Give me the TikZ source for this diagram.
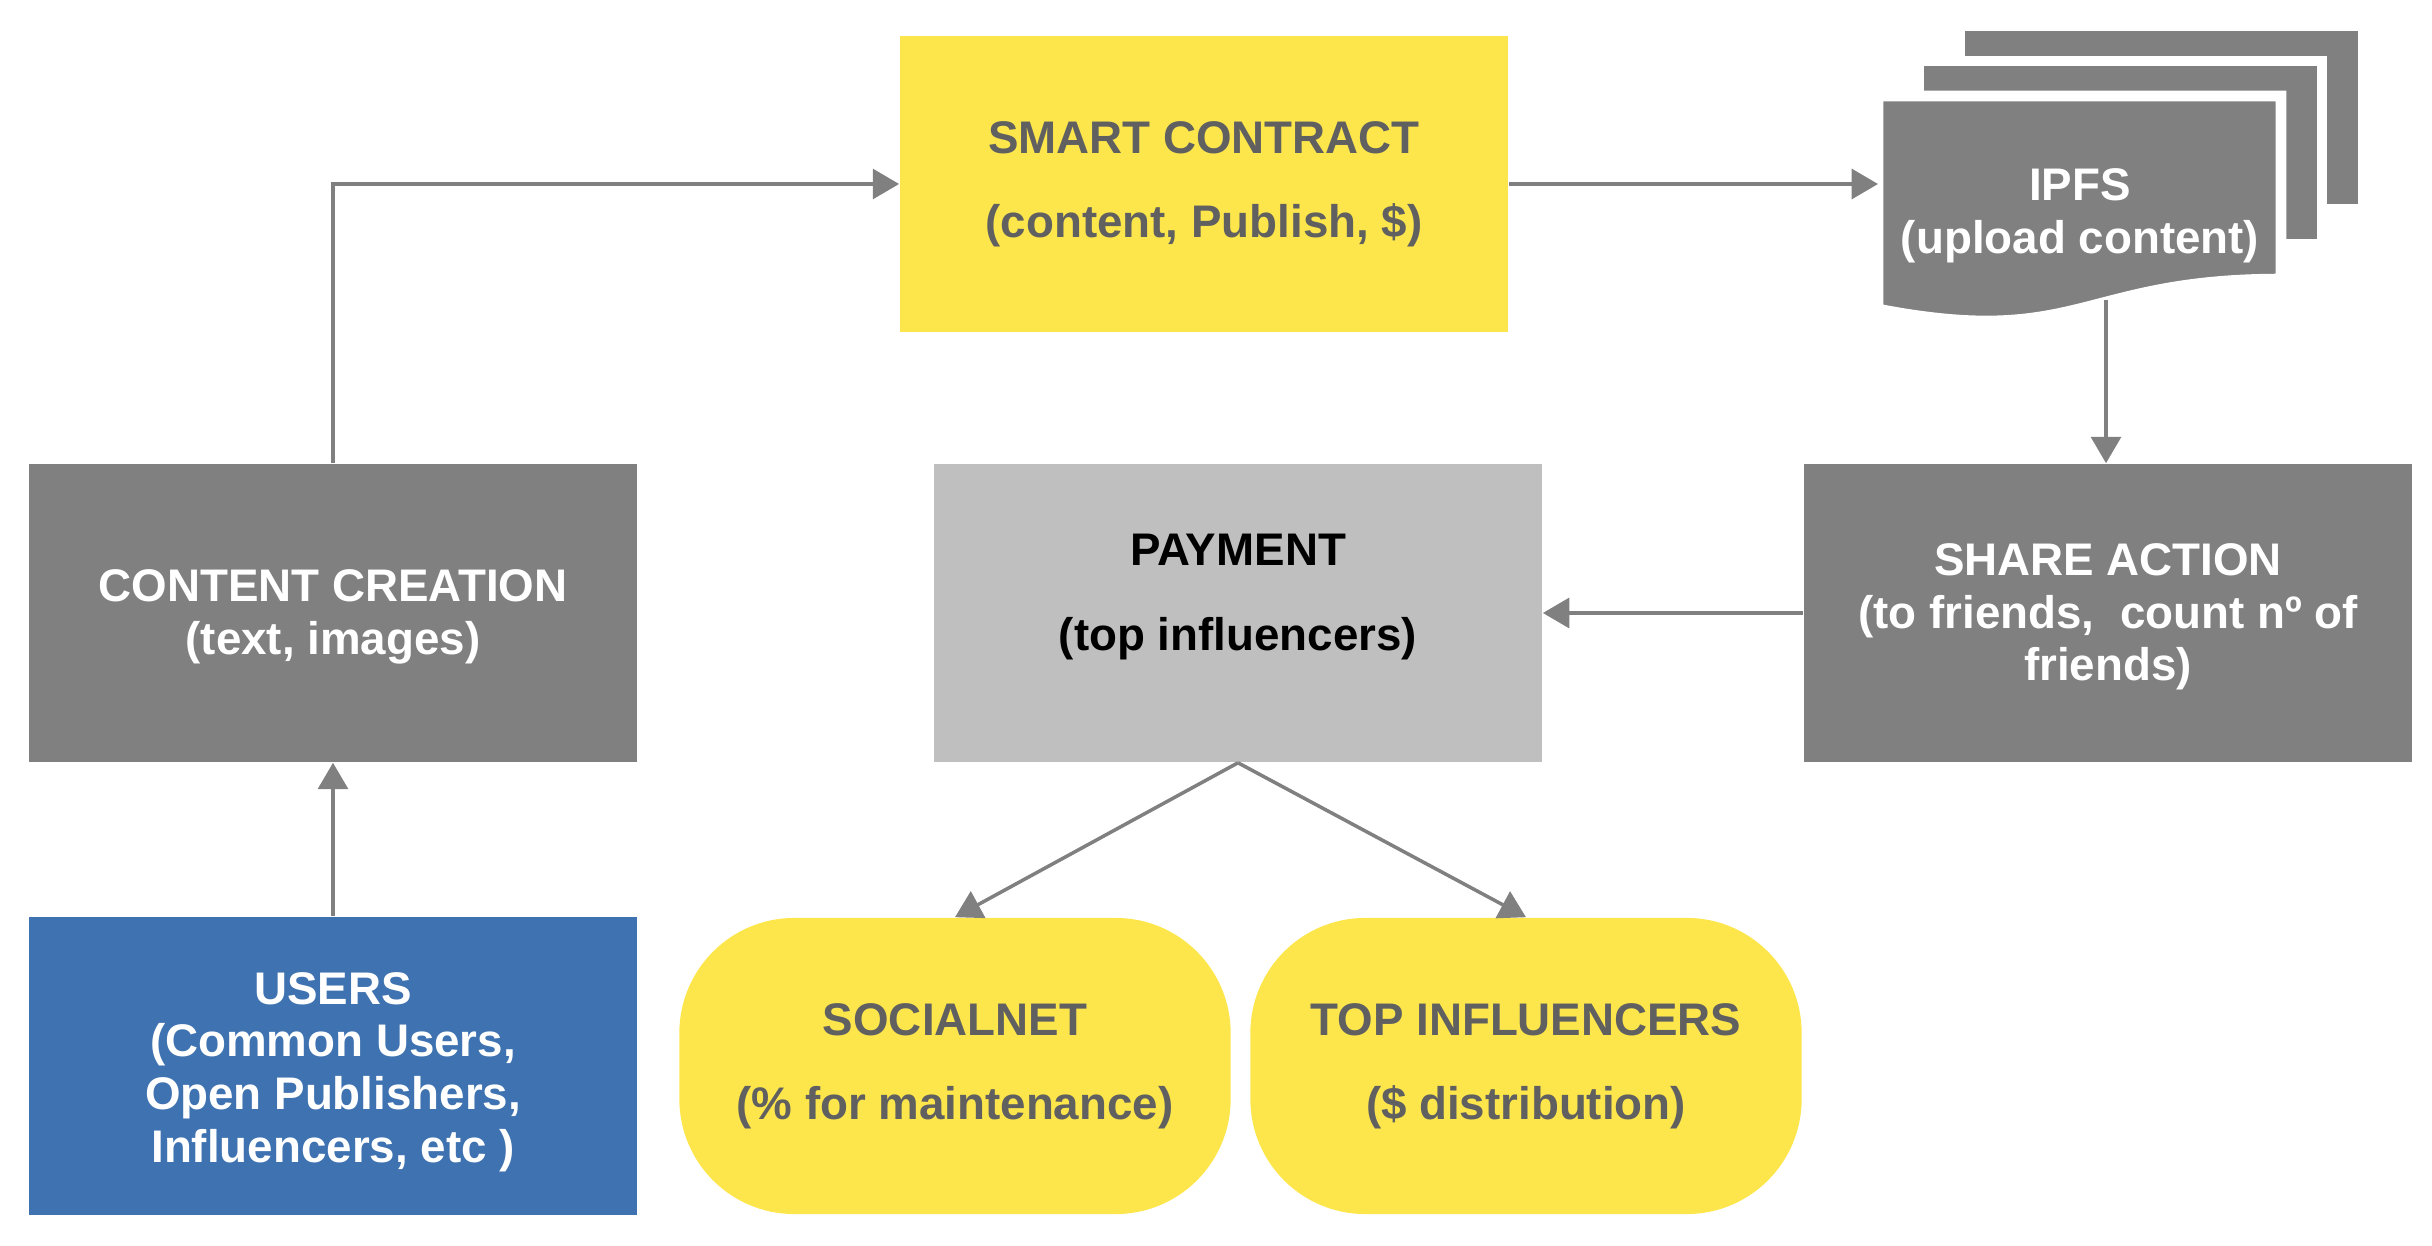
\documentclass[tikz,border=0pt]{standalone}
\usepackage{fontspec}
\setmainfont{Liberation Sans}
\usetikzlibrary{arrows.meta,positioning}
\definecolor{boxgray}{RGB}{128,128,128}
\definecolor{paygray}{RGB}{191,191,191}
\definecolor{sunyellow}{RGB}{253,230,76}
\definecolor{userblue}{RGB}{62,114,176}
\definecolor{textgray}{RGB}{96,96,96}
\begin{document}
\begin{tikzpicture}[x=0.01cm,y=-0.01cm,
	font=\fontsize{13}{15}\selectfont\bfseries,
	box/.style={rectangle,inner sep=0pt,minimum width=6.08cm,minimum height=2.98cm,align=center},
	pill/.style={rectangle,rounded corners=1.15cm,inner sep=0pt,minimum width=5.51cm,minimum height=2.96cm,fill=sunyellow,text=textgray,align=center},
	flow/.style={draw=boxgray,line width=1pt,-{Triangle[length=7.5pt,width=8.5pt]}},
	page/.style={fill=boxgray,draw=white,line width=3pt}]
	\useasboundingbox (0,0) rectangle (2432,1246);
	% left column
	\node[box,fill=boxgray,text=white] (content) at (333,613) {};
	\node[align=center,text=white] (contenttext) at (333,617) {CONTENT CREATION\\(text, images)};
	\node[box,fill=userblue,text=white] (users) at (333,1066) {};
	\node[align=center,text=white] (userstext) at (333,1072) {USERS\\(Common Users,\\Open Publishers,\\Influencers, etc )};
	% middle
	\node[box,fill=sunyellow,text=textgray,minimum height=2.96cm] (smart) at (1204,184) {SMART CONTRACT\\[9pt](content, Publish, \$)};
	\node[box,fill=paygray] (payment) at (1238,613) {};
	\node[align=center,text=black] (paytext) at (1238,597) {PAYMENT\\[9pt](top influencers)};
	\node[pill] (social) at (955,1066) {SOCIALNET\\[9pt](\% for maintenance)};
	\node[pill] (topinf) at (1526,1066) {TOP INFLUENCERS\\[9pt](\$ distribution)};
	% right column
	\node[box,fill=boxgray,text=white] (share) at (2108,613) {};
	\node[align=center,text=white] (sharetext) at (2108,617) {SHARE ACTION\\(to friends,\ \ count nº of\\friends)};
	\foreach \dx/\dy in {82/70,41/35}
		\draw[page] (1878+\dx,96-\dy) rectangle ++(403,183);
	\draw[page] (1878,96) -- (2281,96) -- (2281,279) .. controls (2080,279) and (2080,348) .. (1878,309) -- cycle;
	\node[text=white,align=center] (ipfs) at (2080,216) {IPFS\\(upload content)};
	\coordinate (ipfsleft) at (1878,96);
	\coordinate (ipfsbot) at (2106,300);
	% arrows
	\draw[flow] (users.north) -- (content.south);
	\draw[flow] (content.north) |- (smart.west);
	\draw[flow] (smart.east) -- (smart.east -| ipfsleft);
	\draw[flow] (ipfsbot) -- (ipfsbot |- share.north);
	\draw[flow] (share.west) -- (payment.east);
	\draw[flow] (payment.south) -- (social.north);
	\draw[flow] (payment.south) -- (topinf.north);
\end{tikzpicture}
\end{document}
